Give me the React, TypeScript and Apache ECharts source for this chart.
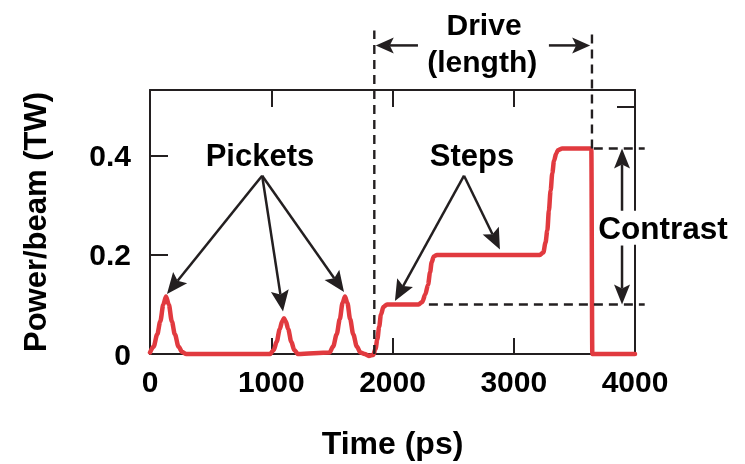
import React, { useEffect, useRef } from "react";
import * as echarts from "echarts";

// ---- data ----
const timePs = [
  0, 30, 60, 85, 110, 132, 155, 180, 205, 235, 265, 300,
  990, 1020, 1045, 1070, 1090, 1105, 1120, 1140, 1165, 1190, 1220,
  1480, 1510, 1540, 1565, 1588, 1608, 1628, 1651, 1676, 1706, 1736, 1770,
  1805, 1840, 1860, 1875, 1890, 1905, 1925, 1955,
  2215, 2245, 2270, 2293, 2310, 2323, 2340, 2367,
  3215, 3244, 3262, 3277, 3290, 3304, 3318, 3332, 3350, 3367, 3400,
  3635, 3640, 3648, 4000,
];
const powerTW = [
  0.003, 0.015, 0.04, 0.066, 0.1, 0.116, 0.1, 0.066, 0.04, 0.015, 0.004, 0,
  0, 0.008, 0.025, 0.05, 0.066, 0.072, 0.066, 0.05, 0.025, 0.008, 0,
  0.003, 0.015, 0.04, 0.07, 0.103, 0.116, 0.103, 0.07, 0.04, 0.015, 0.003, 0,
  -0.004, -0.002, 0.01, 0.03, 0.055, 0.08, 0.095, 0.1,
  0.1, 0.105, 0.12, 0.14, 0.165, 0.185, 0.197, 0.2,
  0.2, 0.205, 0.225, 0.25, 0.29, 0.33, 0.365, 0.39, 0.405, 0.412, 0.415,
  0.415, 0.413, 0, 0,
];
const xTickLabels = ["0", "1000", "2000", "3000", "4000"];
const yTickLabels = ["0", "0.2", "0.4"];

// annotation anchors in data coordinates [time, power]
const picketsLabel = { text: "Pickets", at: [907, 0.4] };
const picketsTail = [925, 0.36];
const picketsTips = [[140, 0.121], [1097, 0.086], [1600, 0.125]];
const stepsLabel = { text: "Steps", at: [2655, 0.4] };
const stepsTail = [2590, 0.36];
const stepsTips = [[2020, 0.107], [2886, 0.211]];
const driveStart = 1850;
const driveEnd = 3645;
const driveTop = 0.653;
const driveText = ["Drive", "(length)"];
const driveTextAt = [[2755, 0.665], [2740, 0.591]];
const driveArrowP = 0.623;
const driveArrowTails = [2210, 3290];
const driveArrowTips = [1862, 3630];
const contrastLabel = { text: "Contrast", at: [4231, 0.255] };
const contrastHigh = 0.415;
const contrastLow = 0.1;
const contrastX = 3893;
const contrastTails = [0.285, 0.219];
const dashLowStart = 2300;
const dashHighStart = 3660;
const dashEnd = 4080;

const INK = "#231f20";
const RED = "#e13a3f";
const FONT = "'Liberation Sans', Arial, Helvetica, sans-serif";

function arrow(tail: number[], tip: number[], L = 21, W = 9, notch = 4) {
  const dx = tip[0] - tail[0];
  const dy = tip[1] - tail[1];
  const len = Math.hypot(dx, dy);
  const ux = dx / len, uy = dy / len;
  const nx = -uy, ny = ux;
  const back = [tip[0] - ux * L, tip[1] - uy * L];
  const neck = [tip[0] - ux * (L - notch), tip[1] - uy * (L - notch)];
  return [
    {
      type: "line",
      z: 100,
      shape: { x1: tail[0], y1: tail[1], x2: neck[0], y2: neck[1] },
      style: { stroke: INK, lineWidth: 2.5 },
    },
    {
      type: "polygon",
      z: 100,
      shape: {
        points: [
          tip,
          [back[0] + nx * W, back[1] + ny * W],
          neck,
          [back[0] - nx * W, back[1] - ny * W],
        ],
      },
      style: { fill: INK },
    },
  ];
}

export default function App() {
  const ref = useRef<HTMLDivElement>(null);
  useEffect(() => {
    const chart = echarts.init(ref.current!, null, { renderer: "svg" });
    const axisLine = { show: true, onZero: false, lineStyle: { color: INK, width: 2 } };
    const labelStyle = { color: "#000", fontSize: 30, fontWeight: "bold", fontFamily: FONT };
    const tick = (length: number) => ({
      show: true,
      inside: true,
      length,
      lineStyle: { color: INK, width: 2 },
    });
    chart.setOption({
      animation: false,
      grid: { left: 150, right: 110, top: 90, bottom: 106 },
      xAxis: [
        {
          type: "value",
          position: "bottom",
          min: 0,
          max: 4000,
          interval: 1000,
          axisLine,
          axisTick: tick(16),
          splitLine: { show: false },
          axisLabel: {
            ...labelStyle,
            margin: 12,
            formatter: (v: number) => xTickLabels[Math.round(v / 1000)] ?? "",
          },
          name: "Time (ps)",
          nameLocation: "middle",
          nameGap: 73,
          nameTextStyle: { ...labelStyle, fontSize: 32 },
        },
        {
          type: "value",
          position: "top",
          min: 0,
          max: 4000,
          interval: 1000,
          axisLine,
          axisTick: tick(17),
          splitLine: { show: false },
          axisLabel: { show: false },
        },
      ],
      yAxis: [
        {
          type: "value",
          position: "left",
          min: 0,
          max: 0.533,
          interval: 0.2,
          axisLine,
          axisTick: tick(18),
          splitLine: { show: false },
          axisLabel: {
            ...labelStyle,
            margin: 19,
            showMaxLabel: false,
            formatter: (v: number) => yTickLabels[Math.round(v / 0.2)] ?? "",
          },
          name: "Power/beam (TW)",
          nameLocation: "middle",
          nameGap: 99,
          nameTextStyle: { ...labelStyle, fontSize: 31 },
        },
        {
          type: "value",
          position: "right",
          min: 0,
          max: 0.533,
          interval: 0.5,
          axisLine,
          axisTick: tick(18),
          splitLine: { show: false },
          axisLabel: { show: false },
        },
      ],
      series: [
        {
          type: "line",
          data: timePs.map((t, i) => [t, powerTW[i]]),
          showSymbol: false,
          smooth: 0.3,
          smoothMonotone: "x",
          clip: false,
          z: 5,
          lineStyle: { color: RED, width: 4.5, cap: "round", join: "round" },
        },
      ],
    });

    const px = (p: number[]) => chart.convertToPixel({ gridIndex: 0 }, p) as number[];
    const dash = { stroke: INK, lineWidth: 2.4, lineDash: [9, 6] };
    const line = (a: number[], b: number[], style: any) => ({
      type: "line",
      z: 90,
      shape: { x1: a[0], y1: a[1], x2: b[0], y2: b[1] },
      style,
    });
    const text = (s: string, at: number[], size = 31) => {
      const p = px(at);
      return {
        type: "text",
        z: 110,
        x: p[0],
        y: p[1],
        style: {
          text: s,
          fill: "#000",
          font: `bold ${size}px ${FONT}`,
          align: "center",
          verticalAlign: "middle",
        },
      };
    };

    const g: any[] = [];
    // dashed guide lines
    g.push(line(px([driveStart, 0]), px([driveStart, driveTop]), dash));
    g.push(line(px([driveEnd, contrastHigh]), px([driveEnd, driveTop]), dash));
    g.push(line(px([dashHighStart, contrastHigh]), px([dashEnd, contrastHigh]), dash));
    g.push(line(px([dashLowStart, contrastLow]), px([dashEnd, contrastLow]), dash));

    // pickets
    g.push(text(picketsLabel.text, picketsLabel.at));
    picketsTips.forEach((tp) => g.push(...arrow(px(picketsTail), px(tp))));
    // steps
    g.push(text(stepsLabel.text, stepsLabel.at));
    stepsTips.forEach((tp) => g.push(...arrow(px(stepsTail), px(tp))));
    // drive
    g.push(text(driveText[0], driveTextAt[0], 30));
    g.push(text(driveText[1], driveTextAt[1], 30));
    driveArrowTails.forEach((t, i) =>
      g.push(...arrow(px([t, driveArrowP]), px([driveArrowTips[i], driveArrowP]), 18, 8, 4))
    );
    // contrast
    const cp = px(contrastLabel.at);
    g.push({
      type: "rect",
      z: 105,
      shape: { x: cp[0] - 68, y: cp[1] - 17, width: 136, height: 34 },
      style: { fill: "#fff" },
    });
    g.push(text(contrastLabel.text, contrastLabel.at, 31.5));
    g.push(...arrow(px([contrastX, contrastTails[0]]), px([contrastX, contrastHigh]), 20, 8, 4));
    g.push(...arrow(px([contrastX, contrastTails[1]]), px([contrastX, contrastLow]), 20, 8, 4));

    chart.setOption({ graphic: g });
    return () => chart.dispose();
  }, []);
  return (
    <div
      ref={ref}
      style={{ position: "fixed", left: 0, top: 0, width: 745, height: 464 }}
    />
  );
}
